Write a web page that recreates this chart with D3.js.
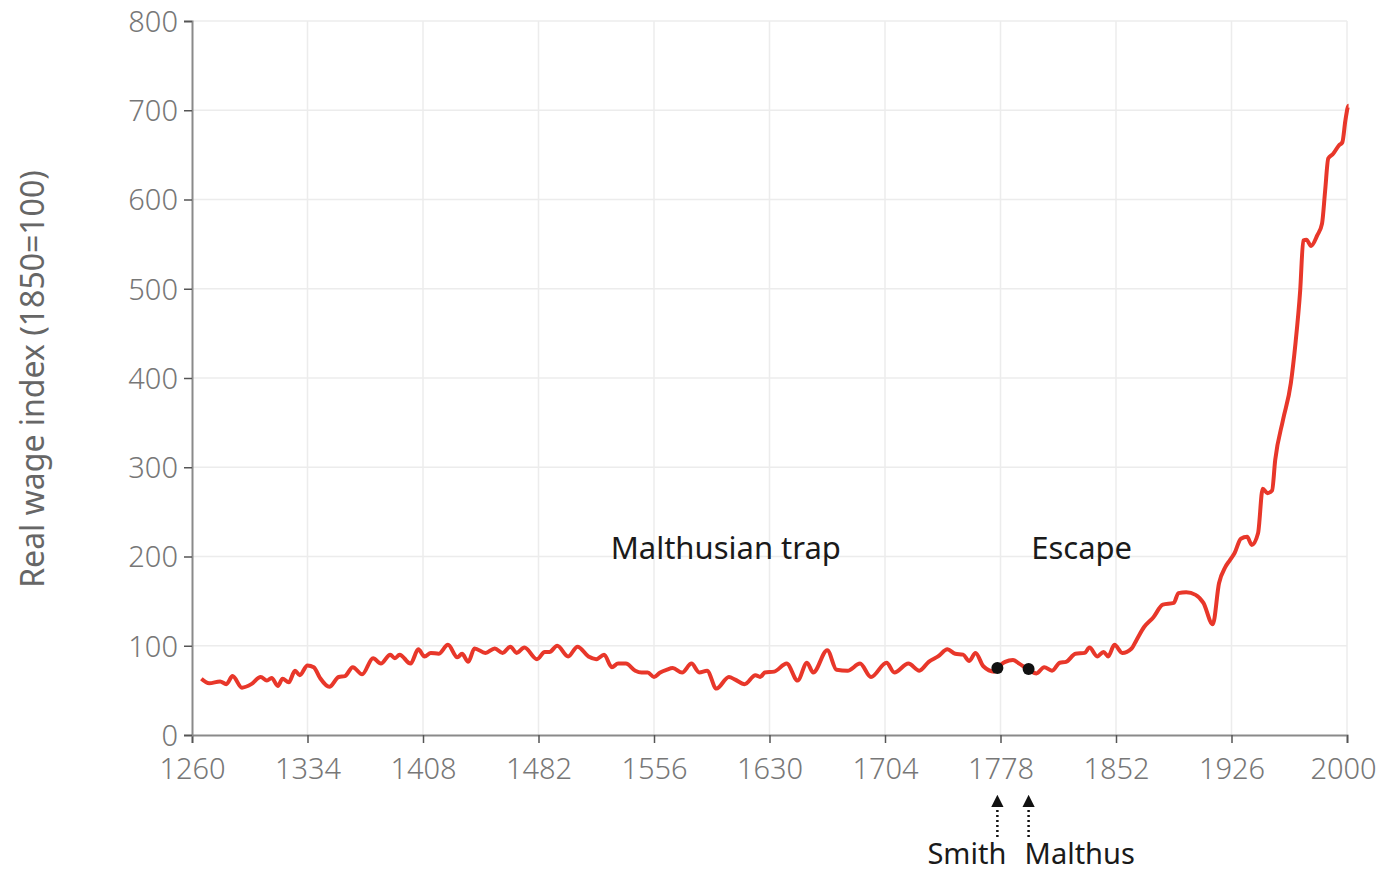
<!DOCTYPE html>
<html>
<head>
<meta charset="utf-8">
<script src="https://cdn.jsdelivr.net/npm/d3@7"></script>
<style>
  body { margin: 0; background: #fff; }
  svg { font-family: "Noto Sans", sans-serif; }
</style>
</head>
<body>
<div class="container"></div>
<script>
// real wage index, England
var years = [1266,1271,1278,1282,1286,1292,1298,1304,1308,1311,1315,1318,1322,1326,1329,1334,1338,1342,1348,1354,1358,1363,1369,1376,1381,1387,1390,1393,1400,1405,1409,1413,1418,1424,1430,1433,1437,1441,1448,1454,1459,1464,1468,1473,1481,1486,1489,1494,1501,1507,1514,1519,1524,1529,1533,1538,1544,1548,1552,1556,1560,1564,1568,1574,1580,1585,1590,1596,1604,1608,1614,1621,1624,1627,1633,1641,1648,1654,1658,1667,1673,1680,1688,1695,1705,1710,1719,1726,1732,1738,1744,1749,1754,1758,1762,1767,1774,1776,1781,1786,1790,1796,1801,1806,1811,1816,1820,1826,1832,1835,1840,1844,1847,1851,1856,1862,1865,1870,1876,1882,1889,1892,1897,1903,1908,1914,1918,1922,1925,1928,1932,1936,1939,1943,1946,1949,1952,1954,1959,1964,1967,1970,1972,1974,1977,1981,1984,1986,1988,1991,1995,1997,1999,2001,2003];
var wages = [63,58,60,57,66,53,57,65,61,64,55,63,59,72,67,78,76,64,54,65,66,76,68,86,80,90,86,90,80,96,88,92,91,101,87,91,82,97,92,97,92,99,92,98,85,93,93,100,88,99,88,85,90,76,80,80,72,70,70,65,70,73,75,70,80,70,72,52,65,62,57,67,65,70,71,80,61,81,70,95,73,72,80,65,81,70,80,72,82,88,96,91,90,83,92,77,71,75,82,84,80,73,69,76,72,81,82,91,92,98,88,93,88,101,92,97,106,121,132,146,148,159,160,157,148,124,170,188,196,204,220,222,213,226,276,271,274,308,353,394,439,498,554,555,548,560,573,610,646,651,661,664,689,705];
var xTicks = [1260,1334,1408,1482,1556,1630,1704,1778,1852,1926,2000];
var yTicks = [0,100,200,300,400,500,600,700,800];
var markerNames = ['Smith','Malthus'];
var markerYears = [1776,1796];
var markerValues = [75,74];
var phaseLabels = ['Malthusian trap','Escape'];
var phaseYears = [1602,1830];
var phaseValue = 200;

var W = 1379, H = 873;
var margin = {top: 21, right: 32, bottom: 138, left: 192};
var svg = d3.select('.container').append('svg')
  .attr('width', W).attr('height', H);
var g = svg.append('g').attr('transform', 'translate(' + margin.left + ',' + margin.top + ')');
var w = W - margin.left - margin.right, h = H - margin.top - margin.bottom;

var x = d3.scaleLinear().domain([1260, 2000]).range([0, w]);
var y = d3.scaleLinear().domain([0, 800]).range([h, 0]);

// grid
g.append('g').selectAll('line').data(xTicks.slice(1)).enter().append('line')
  .attr('x1', d => x(d)).attr('x2', d => x(d)).attr('y1', 0).attr('y2', h)
  .attr('stroke', '#ececec').attr('stroke-width', 1.5);
g.append('g').selectAll('line').data(yTicks.slice(1)).enter().append('line')
  .attr('x1', 0).attr('x2', w).attr('y1', d => y(d)).attr('y2', d => y(d))
  .attr('stroke', '#ececec').attr('stroke-width', 1.5);

// axes
var xAxis = g.append('g').attr('transform', 'translate(0,' + h + ')')
  .call(d3.axisBottom(x).tickValues(xTicks).tickFormat(d3.format('d')).tickSizeOuter(0).tickSize(8).tickPadding(15));
var yAxis = g.append('g')
  .call(d3.axisLeft(y).tickValues(yTicks).tickSizeOuter(0).tickSize(8).tickPadding(6));
[xAxis, yAxis].forEach(function(a){
  a.select('.domain').attr('stroke', '#8a8a8a').attr('stroke-width', 2);
  a.selectAll('.tick line').attr('stroke', '#555').attr('stroke-width', 1.5);
  a.selectAll('.tick text').attr('fill', '#777').style('font-size', '29px')
    .style('font-family', '"Noto Sans", sans-serif').style('font-weight', 300);
});
yAxis.selectAll('.tick text').attr('dy', '0.36em');
// last year label sits a little to the left so it stays inside the frame
xAxis.selectAll('.tick text').filter(d => d === 2000).attr('dx', -4);

svg.append('text')
  .attr('transform', 'translate(44,' + (margin.top + h / 2 + 1) + ') rotate(-90)')
  .attr('text-anchor', 'middle').attr('fill', '#666').style('font-size', '32px')
  .text('Real wage index (1850=100)');

// the line
var pts = years.map((d, i) => [d, wages[i]]);
g.append('path').datum(pts)
  .attr('fill', 'none').attr('stroke', '#e8372a').attr('stroke-width', 4)
  .attr('stroke-linejoin', 'round')
  .attr('d', d3.line().x(d => x(d[0])).y(d => y(d[1])).curve(d3.curveMonotoneX));

// Smith and Malthus
g.selectAll('.dot').data(markerYears).enter().append('circle')
  .attr('cx', d => x(d)).attr('cy', (d, i) => y(markerValues[i])).attr('r', 6).attr('fill', '#111');

svg.append('defs').append('marker').attr('id', 'arr')
  .attr('viewBox', '0 0 10 10').attr('refX', 5).attr('refY', 5)
  .attr('markerWidth', 5).attr('markerHeight', 5).attr('orient', 'auto')
  .append('path').attr('d', 'M0,0L10,5L0,10z').attr('fill', '#111');

g.selectAll('.arrow').data(markerYears).enter().append('line')
  .attr('x1', d => x(d)).attr('x2', d => x(d))
  .attr('y1', h + 102).attr('y2', h + 66)
  .attr('stroke', '#111').attr('stroke-width', 2.5).attr('stroke-dasharray', '2,3')
  .attr('marker-end', 'url(#arr)');

g.selectAll('.mlabel').data(markerNames).enter().append('text')
  .attr('x', (d, i) => x(markerYears[i]) + (i === 0 ? 9 : -4))
  .attr('y', h + 129)
  .attr('text-anchor', (d, i) => i === 0 ? 'end' : 'start')
  .attr('fill', '#1a1a1a').style('font-size', '29px')
  .text(d => d);

g.selectAll('.phase').data(phaseLabels).enter().append('text')
  .attr('x', (d, i) => x(phaseYears[i])).attr('y', y(phaseValue) + 2)
  .attr('text-anchor', 'middle').attr('fill', '#1a1a1a').style('font-size', '31px')
  .text(d => d);
</script>
</body>
</html>
